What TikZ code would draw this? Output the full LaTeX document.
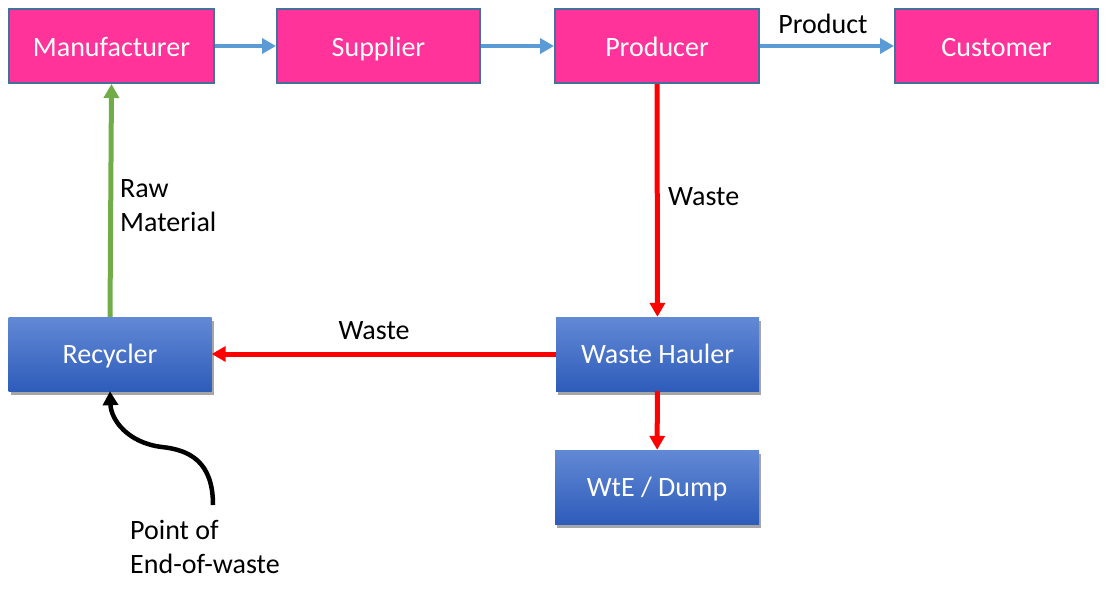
\documentclass[tikz,border=0pt]{standalone}
\usepackage{fontspec}
\setmainfont{Carlito}
\usetikzlibrary{arrows.meta,shadows}
\definecolor{pinkfill}{RGB}{255,51,153}
\definecolor{pinkline}{RGB}{65,113,156}
\definecolor{bluetop}{RGB}{98,137,213}
\definecolor{bluebot}{RGB}{46,92,186}
\definecolor{flowblue}{RGB}{91,155,213}
\definecolor{flowred}{RGB}{255,0,0}
\definecolor{flowgreen}{RGB}{112,173,71}
\tikzset{
  pinkbox/.style={draw=pinkline, line width=2pt, fill=pinkfill, text=white,
    minimum width=204pt, minimum height=74pt, inner sep=0pt,
    text height=20pt, text depth=0pt,
    font=\fontsize{28}{32}\selectfont},
  bluebox/.style={top color=bluetop, bottom color=bluebot, text=white,
    minimum width=203pt, minimum height=74pt, inner sep=0pt,
    text height=19pt, text depth=0pt,
    drop shadow={shadow xshift=2pt, shadow yshift=-4pt, fill=black, opacity=0.35},
    font=\fontsize{28}{32}\selectfont},
  lbl/.style={text=black, inner sep=0pt, align=left, font=\fontsize{28}{34}\selectfont},
  tip/.style={-{Triangle[length=14pt,width=15pt]}},
  bluearrow/.style={draw=flowblue, line width=4pt, tip},
  redarrow/.style={draw=flowred, line width=5pt, tip},
  greenarrow/.style={draw=flowgreen, line width=5pt, tip},
  blackarrow/.style={draw=black, line width=4.5pt, tip}
}
\begin{document}
\begin{tikzpicture}[x=1pt,y=-1pt]
\useasboundingbox (0,0) rectangle (1107,590);
\node[pinkbox, minimum width=205pt] (man) at (111.5,46) {Manufacturer};
\node[pinkbox, minimum width=203pt] (sup) at (378.5,46) {Supplier};
\node[pinkbox] (pro) at (657,46) {Producer};
\node[pinkbox, minimum width=203pt] (cus) at (996.5,46) {Customer};
\node[bluebox] (rec) at (110,354) {Recycler};
\node[bluebox] (hau) at (657.5,354) {Waste Hauler};
\node[bluebox, minimum width=204pt] (wte) at (657,487) {WtE / Dump};

\node[lbl] (lprod) at (823,24) {Product};
\node[lbl, anchor=west] (lwaste1) at (668,197) {Waste};
\node[lbl] (lwaste2) at (374,331) {Waste};
\node[lbl, anchor=west] (lraw) at (120,206) {Raw\\Material};
\node[lbl, anchor=west] (lpoint) at (130,547) {Point of\\End-of-waste};
\coordinate (eow) at (213,505);

\draw[bluearrow] (man) -- (sup);
\draw[bluearrow] (sup) -- (pro);
\draw[bluearrow] (pro) -- (cus);
\draw[redarrow] (pro) -- (hau);
\draw[redarrow] (hau) -- (rec);
\draw[redarrow] (hau) -- (wte);
\draw[greenarrow] (rec.north) -- (man.south);
\draw[blackarrow] (eow) .. controls (213,462) and (190,450) .. (162,447)
  .. controls (128,443) and (111,420) .. (rec.south);
\end{tikzpicture}
\end{document}
